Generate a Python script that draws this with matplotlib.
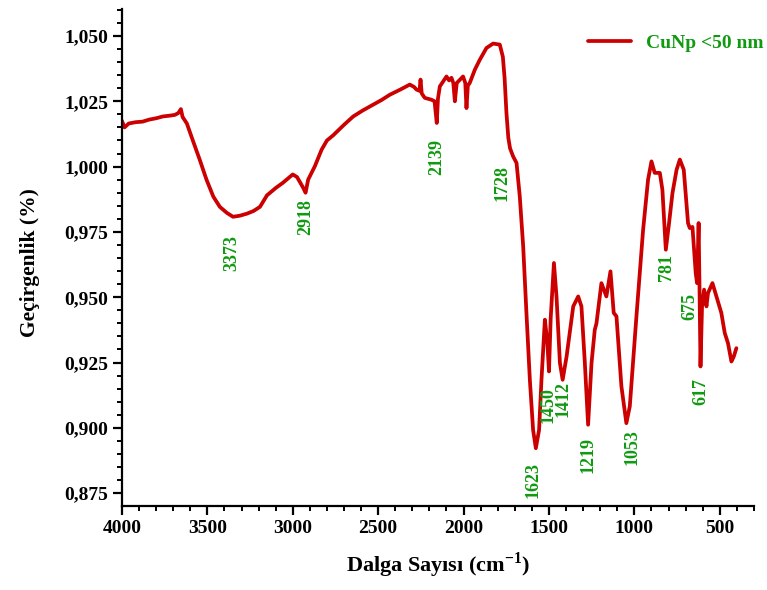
import matplotlib
matplotlib.use("Agg")
import matplotlib.pyplot as plt
from matplotlib.ticker import MultipleLocator, FuncFormatter

plt.rcParams['font.family'] = ['Liberation Serif', 'DejaVu Serif']
plt.rcParams['font.weight'] = 'bold'
plt.rcParams['mathtext.fontset'] = 'custom'
plt.rcParams['mathtext.rm'] = 'Liberation Serif:bold'
plt.rcParams['mathtext.bf'] = 'Liberation Serif:bold'

# FTIR spektrumu (okunan değerler)
wavenumber = [4000, 3985, 3960, 3920, 3880, 3840, 3800, 3760, 3720, 3690, 3670, 3655, 3645,
              3620, 3585, 3545, 3505, 3465, 3427, 3386, 3350, 3310, 3268, 3230, 3192, 3151,
              3100, 3058, 3000, 2975, 2940, 2925, 2910, 2871, 2831, 2800, 2763, 2700, 2646,
              2590, 2529, 2480, 2432, 2370, 2315, 2290, 2276, 2258, 2252, 2245, 2227, 2188,
              2170, 2157, 2150, 2139, 2100, 2085, 2071, 2060, 2051, 2040, 2003, 1990, 1983,
              1975, 1964, 1934, 1905, 1866, 1827, 1788, 1770, 1760, 1749, 1738, 1728, 1710,
              1690, 1671, 1651, 1632, 1612, 1593, 1577, 1558, 1544, 1524, 1510, 1500, 1490,
              1471, 1456, 1436, 1420, 1397, 1358, 1329, 1310, 1290, 1271, 1251, 1232, 1222,
              1193, 1164, 1140, 1121, 1105, 1076, 1047, 1027, 988, 949, 920, 900, 881, 851,
              836, 816, 797, 777, 753, 734, 711, 686, 676, 660, 641, 633, 624, 619, 613, 604,
              592, 578, 569, 543, 520, 491, 471, 452, 432, 418, 403]
transmittance = [1.0175, 1.0150, 1.0165, 1.0170, 1.0172, 1.0180, 1.0185, 1.0192, 1.0195,
                 1.0198, 1.0205, 1.0220, 1.0190, 1.0165, 1.0100, 1.0027, 0.9950, 0.9885,
                 0.9846, 0.9823, 0.9808, 0.9812, 0.9820, 0.9830, 0.9846, 0.9890, 0.9918,
                 0.9938, 0.9970, 0.9960, 0.9920, 0.9900, 0.9950, 1.0001, 1.0065, 1.0100,
                 1.0120, 1.0160, 1.0192, 1.0215, 1.0237, 1.0255, 1.0275, 1.0295, 1.0314,
                 1.0305, 1.0295, 1.0290, 1.0333, 1.0280, 1.0263, 1.0256, 1.0250, 1.0167,
                 1.0260, 1.0307, 1.0345, 1.0330, 1.0340, 1.0320, 1.0250, 1.0320, 1.0345,
                 1.0320, 1.0224, 1.0310, 1.0320, 1.0371, 1.0409, 1.0454, 1.0471, 1.0467,
                 1.0420, 1.0340, 1.0205, 1.0110, 1.0070, 1.0039, 1.0014, 0.9886, 0.9694,
                 0.9440, 0.9184, 0.8992, 0.8922, 0.8992, 0.9184, 0.9414, 0.9330, 0.9216,
                 0.9420, 0.9631, 0.9503, 0.9248, 0.9184, 0.9273, 0.9465, 0.9503, 0.9465,
                 0.9248, 0.9012, 0.9248, 0.9375, 0.9400, 0.9554, 0.9503, 0.9599, 0.9440,
                 0.9427, 0.9159, 0.9018, 0.9082, 0.9427, 0.9758, 0.9950, 1.0020, 0.9976,
                 0.9976, 0.9911, 0.9682, 0.9784, 0.9899, 0.9988, 1.0027, 0.9988, 0.9784,
                 0.9765, 0.9769, 0.9592, 0.9554, 0.9784, 0.9550, 0.9235, 0.9465, 0.9529,
                 0.9465, 0.9516, 0.9554, 0.9503, 0.9440, 0.9363, 0.9324, 0.9254, 0.9273,
                 0.9305]

# pik etiketleri: (metin, x, y)
peak_labels = ['3373', '2918', '2139', '1728', '1623', '1450', '1412', '1219', '1053',
               '781', '675', '617']
peak_x = [3356, 2923, 2157, 1776, 1595, 1507, 1419, 1273, 1015, 811, 676, 612]
peak_y = [0.967, 0.9806, 1.0038, 0.9938, 0.8801, 0.9088, 0.9111, 0.8897, 0.8927,
          0.9613, 0.9464, 0.9138]

red = '#cc0000'
green = '#109a10'

fig = plt.figure(figsize=(7.67, 5.90), dpi=100)
ax = fig.add_axes([0.159, 0.1424, 0.824, 0.8418])

ax.plot(wavenumber, transmittance, color=red, lw=2.7, label='CuNp <50 nm',
        solid_joinstyle='round', solid_capstyle='round')

for t, x, y in zip(peak_labels, peak_x, peak_y):
    ax.text(x, y, t, rotation=90, ha='center', va='center', color=green,
            fontsize=13, fontweight='bold')

ax.set_xlim(4000, 300)
ax.set_ylim(0.8701, 1.0602)
ax.xaxis.set_minor_locator(MultipleLocator(100))
ax.set_xticks([4000, 3500, 3000, 2500, 2000, 1500, 1000, 500])
ax.yaxis.set_major_locator(MultipleLocator(0.025))
ax.yaxis.set_minor_locator(MultipleLocator(0.005))
ax.yaxis.set_major_formatter(FuncFormatter(lambda v, p: f"{v:.3f}".replace('.', ',')))

for s in ['top', 'right']:
    ax.spines[s].set_visible(False)
for s in ['left', 'bottom']:
    ax.spines[s].set_linewidth(1.6)
ax.tick_params(which='major', direction='out', length=6.5, width=1.6, labelsize=14)
ax.tick_params(which='minor', direction='out', length=3.5, width=1.4)

ax.set_xlabel('Dalga Sayısı (cm$^{-1}$)', fontsize=16, fontweight='bold', labelpad=10)
ax.set_ylabel('Geçirgenlik (%)', fontsize=15.5, fontweight='bold')
ax.yaxis.set_label_coords(-0.13, 0.49)

leg = ax.legend(loc='upper right', bbox_to_anchor=(1.016, 0.968), bbox_transform=fig.transFigure,
                frameon=True, fancybox=False, edgecolor='none', facecolor='white',
                framealpha=1, fontsize=14, handlelength=2.2, borderpad=0.3)
for txt in leg.get_texts():
    txt.set_color(green)

fig.savefig('out.png', dpi=100)
